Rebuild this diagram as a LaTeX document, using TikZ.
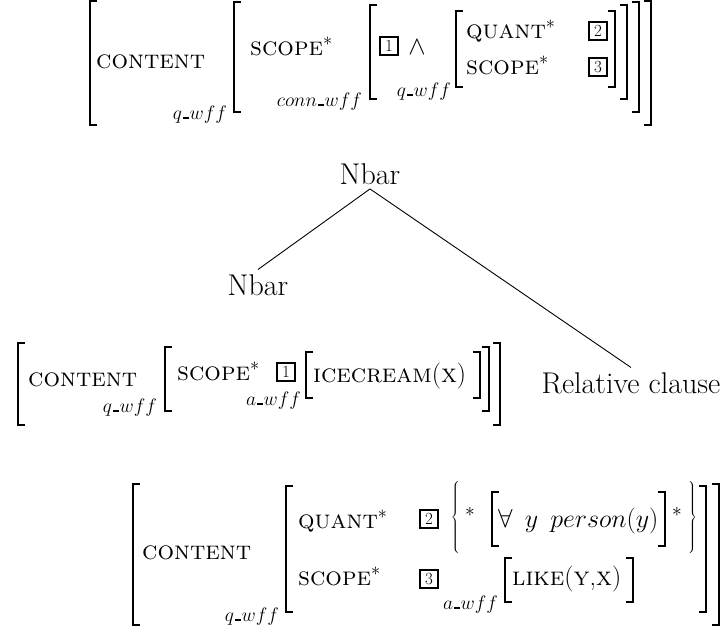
\RequirePackage{fix-cm}
\documentclass[tikz,border=0pt]{standalone}
\usepackage{fontspec}
\newcommand\avmfont{\fontsize{26}{31}\selectfont}
\newcommand\subfont{\fontsize{19.5}{23}\selectfont}
\newcommand\treefont{\fontsize{30}{36}\selectfont\addfontfeatures{LetterSpace=3.5}}
\newcommand\tagfont{\fontsize{17}{20}\selectfont}
\newcommand\bracefont{\fontsize{30}{36}\selectfont}
% short baseline rule used in type names such as q_wff
\newcommand\usc{\kern.06em\rule{.3em}{.08em}\kern.03em}
% AVM brackets: vertical stroke at x, from y1 to y2
\newcommand\openbr[3]{\draw[brk] ({#1+7},#2) -- (#1,#2) -- (#1,#3) -- ({#1+7},#3);}
\newcommand\closebr[3]{\draw[brk] ({#1-7},#2) -- (#1,#2) -- (#1,#3) -- ({#1-7},#3);}
\begin{document}
\begin{tikzpicture}[x=1pt,y=-1pt,
  avm/.style={font=\avmfont,inner sep=0pt},
  sub/.style={font=\subfont,inner sep=0pt,anchor=base east},
  star/.style={font=\subfont,inner sep=0pt},
  curly/.style={font=\bracefont,inner sep=0pt},
  tree/.style={font=\treefont,inner sep=4.5pt},
  tag/.style={draw,line width=2pt,font=\tagfont,inner sep=0pt,minimum width=18pt,minimum height=18pt},
  brk/.style={line width=2pt,line join=miter},
  edge/.style={line width=0.9pt}]
\useasboundingbox (0,0) rectangle (726,632);

% ---- top feature structure ----
\openbr{90}{1}{125} \closebr{651}{1}{125}
\node[avm,anchor=base west] (t1a) at (96,68) {\textsc{content}};
\node[sub] (t1t) at (227,119) {$q$\usc$wff$};
\openbr{234}{2}{112} \closebr{639}{2}{112}
\node[avm,anchor=base west] (t2a) at (250,55) {\textsc{scope}$^*$};
\node[sub] (t2t) at (362,106) {$conn$\usc$wff$};
\openbr{370}{5}{99} \closebr{627}{5}{99}
\node[tag] (t3tag) at (389,46) {1};
\node[avm,anchor=base] (t3and) at (417,54) {$\wedge$};
\node[sub] (t3t) at (451,96) {$q$\usc$wff$};
\openbr{456}{11}{87} \closebr{615}{11}{87}
\node[avm,anchor=base west] (t4a) at (466,38) {\textsc{quant}$^*$};
\node[avm,anchor=base west] (t4b) at (466,74) {\textsc{scope}$^*$};
\node[tag] (t4tag2) at (598,31) {2};
\node[tag] (t4tag3) at (598,67) {3};

% ---- tree ----
\node[tree,anchor=base] (nb0) at (370,184) {Nbar};
\node[tree,anchor=base] (nb1) at (258,295) {Nbar};
\node[tree,anchor=base] (rc) at (631,393) {Relative clause};
\draw[edge] (nb0.south) -- (nb1.north);
\draw[edge] (nb0.south) -- (rc.north);

% ---- middle feature structure ----
\openbr{18}{343}{425} \closebr{500}{343}{425}
\node[avm,anchor=base west] (m1a) at (28,386) {\textsc{content}};
\node[sub] (m1t) at (157,412) {$q$\usc$wff$};
\openbr{165}{347}{411} \closebr{489}{347}{411}
\node[avm,anchor=base west] (m2a) at (177,380) {\textsc{scope}$^*$};
\node[tag] (m2tag) at (286,372) {1};
\node[sub] (m2t) at (301,405) {$a$\usc$wff$};
\openbr{306}{352}{398} \closebr{480}{352}{398}
\node[avm,anchor=base west] (m3a) at (313,382) {\textsc{icecream}(\textsc{x})};

% ---- bottom feature structure ----
\openbr{133}{484}{625} \closebr{719}{484}{625}
\node[avm,anchor=base west] (b1a) at (142,559) {\textsc{content}};
\node[sub] (b1t) at (279,621) {$q$\usc$wff$};
\openbr{286}{486}{612} \closebr{706}{486}{612}
\node[avm,anchor=base west] (b2a) at (298,528) {\textsc{quant}$^*$};
\node[avm,anchor=base west] (b2b) at (298,585) {\textsc{scope}$^*$};
\node[tag] (b2tag2) at (429,519) {2};
\node[tag] (b2tag3) at (429,579) {3};
\node[curly] (b3lb) at (456,519) {$\left\{\vrule height 31pt depth 31pt width 0pt\right.$};
\node[star] (b3s1) at (470,512) {$\ast$};
\openbr{492}{492}{546} \closebr{665}{492}{546}
\node[avm,anchor=base west] (b3f) at (498,527) {$\forall\ \,y\ \,person(y)$};
\node[star] (b3s2) at (677,512) {$\ast$};
\node[curly] (b3rb) at (692,519) {$\left.\vrule height 31pt depth 31pt width 0pt\right\}$};
\node[sub] (b4t) at (498,609) {$a$\usc$wff$};
\openbr{505}{558}{602} \closebr{633}{558}{602}
\node[avm,anchor=base west] (b4a) at (512,585) {\textsc{like}(\textsc{y},\textsc{x})};
\end{tikzpicture}
\end{document}
